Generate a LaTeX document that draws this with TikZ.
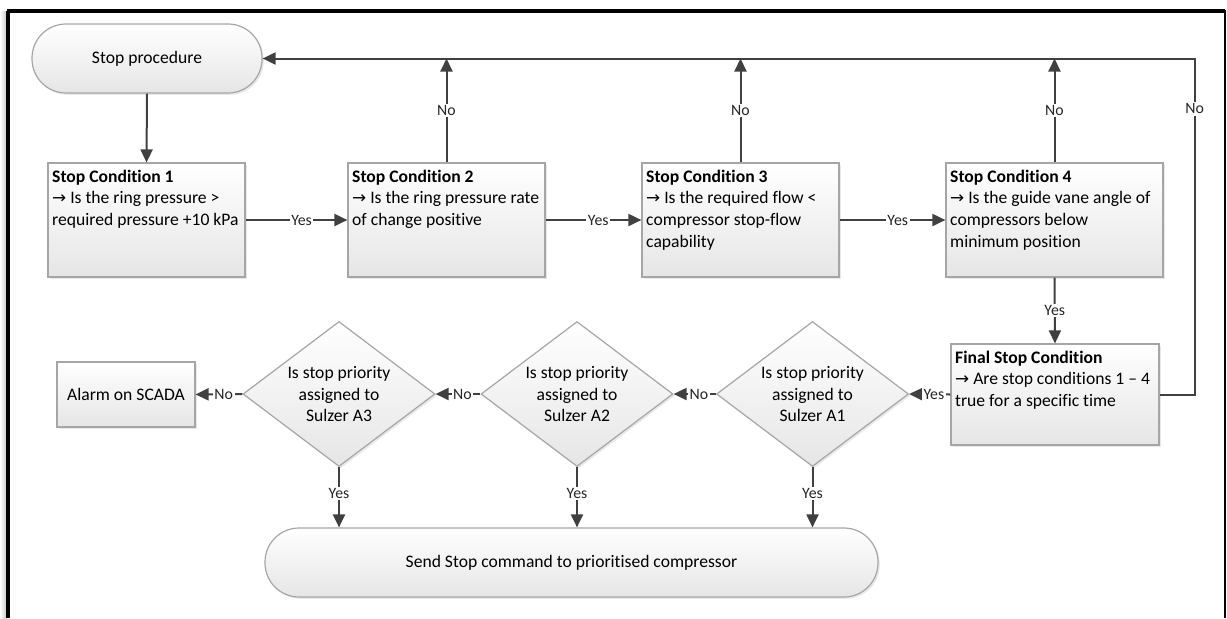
\documentclass[tikz,border=0pt]{standalone}
\usepackage{fontspec}
\setmainfont[Ligatures={NoCommon}]{Carlito}
\newfontfamily\arrowfont{DejaVu Sans}
\newcommand{\qarrow}{{\arrowfont\fontsize{8.4}{10.8}\selectfont →}}
\usetikzlibrary{arrows.meta,shapes.geometric,shadows,calc}

\tikzset{
  conn/.style={draw=black!75, line width=1pt, -{Triangle[length=6.5pt,width=6pt]}},
  shapefill/.style={draw=black!35, line width=0.6pt, top color=white, bottom color=black!10,
    drop shadow={opacity=0.18, shadow xshift=0.9pt, shadow yshift=-0.9pt}},
  cbox/.style={shapefill, rectangle, inner sep=0pt, minimum height=57pt},
  terminal/.style={shapefill, rectangle, rounded corners=17pt, minimum height=34.5pt,
    inner sep=0pt, font=\fontsize{8.8}{10.8}\selectfont},
  decision/.style={shapefill, diamond, inner sep=0pt, minimum width=96pt, minimum height=72.5pt},
  boxtext/.style={anchor=north west, inner xsep=2.2pt, inner ysep=3.6pt, align=left,
    font=\fontsize{8.8}{10.8}\selectfont},
  dtext/.style={align=center, inner sep=0pt, font=\fontsize{8.8}{10.8}\selectfont},
  elabel/.style={fill=white, inner sep=0.8pt, font=\fontsize{7.9}{9}\selectfont, text=black!85},
}

\begin{document}
\begin{tikzpicture}[x=0.5pt, y=-0.5pt]
  \useasboundingbox (0,0) rectangle (1227,618);

  % page frame, open at the bottom
  \shade[left color=white, right color=black!22] (0,11) rectangle (6.5,618);
  \draw[line width=2pt] (8,618) -- (8,11);
  \draw[line width=2pt] (7,11) -- (1225,11);
  \draw[line width=1.3pt] (1225,10) -- (1225,618);

  % start terminal
  \node[terminal, minimum width=115pt] (sp) at (147,58.5) {Stop procedure};

  % stop condition boxes
  \node[cbox, minimum width=98.5pt]  (c1) at (146.5,220) {};
  \node[cbox, minimum width=98.5pt]  (c2) at (446.5,220) {};
  \node[cbox, minimum width=98.5pt]  (c3) at (740.5,220) {};
  \node[cbox, minimum width=108.5pt] (c4) at (1054.5,220) {};
  \node[boxtext] (c1t) at (c1.north west) {\textbf{Stop Condition 1}\\\qarrow{} Is the ring pressure >\\required pressure +10 kPa};
  \node[boxtext] (c2t) at (c2.north west) {\textbf{Stop Condition 2}\\\qarrow{} Is the ring pressure rate\\of change positive};
  \node[boxtext] (c3t) at (c3.north west) {\textbf{Stop Condition 3}\\\qarrow{} Is the required flow <\\compressor stop-flow\\capability};
  \node[boxtext] (c4t) at (c4.north west) {\textbf{Stop Condition 4}\\\qarrow{} Is the guide vane angle of\\compressors below\\minimum position};

  % final condition
  \node[cbox, minimum width=104pt, minimum height=50.5pt] (fin) at (1055,394.5) {};
  \node[boxtext] (fint) at (fin.north west) {\textbf{Final Stop Condition}\\\qarrow{} Are stop conditions 1 -- 4\\true for a specific time};

  % priority decisions
  \node[decision] (d1) at (812.5,394) {};
  \node[decision] (d2) at (577,394) {};
  \node[decision] (d3) at (339,394) {};
  \node[dtext] (d1t) at (d1.center) {Is stop priority\\assigned to\\Sulzer A1};
  \node[dtext] (d2t) at (d2.center) {Is stop priority\\assigned to\\Sulzer A2};
  \node[dtext] (d3t) at (d3.center) {Is stop priority\\assigned to\\Sulzer A3};

  % alarm and end terminal
  \node[cbox, minimum width=69pt, minimum height=32.5pt, font=\fontsize{8.8}{10.8}\selectfont] (al) at (126,394.5) {Alarm on SCADA};
  \node[terminal, minimum width=306.5pt] (send) at (571.5,562.5) {Send Stop command to prioritised compressor};

  % main flow
  \draw[conn] (sp.south) -- (c1.north);
  \draw[conn] (c1.east) -- node[elabel, pos=.55] {Yes} (c2.west);
  \draw[conn] (c2.east) -- node[elabel, pos=.55] {Yes} (c3.west);
  \draw[conn] (c3.east) -- node[elabel, pos=.55] {Yes} (c4.west);
  \draw[conn] (c4.south) -- node[elabel] {Yes} (fin.north);

  % return paths to the start
  \draw[conn] (c2.north) -- node[elabel] {No} (c2.north |- sp.east);
  \draw[conn] (c3.north) -- node[elabel] {No} (c3.north |- sp.east);
  \draw[conn] (c4.north) -- node[elabel] {No} (c4.north |- sp.east);
  \coordinate (rc) at ($(fin.east)+(35,0)$);
  \draw[conn] (fin.east) -- (rc) -- node[elabel, pos=.85] {No} (rc |- sp.east) -- (sp.east);

  % priority chain
  \draw[conn] (fin.west) -- node[elabel, pos=.4] {Yes} (d1.east);
  \draw[conn] (d1.west) -- node[elabel, pos=.4] {No} (d2.east);
  \draw[conn] (d2.west) -- node[elabel, pos=.4] {No} (d3.east);
  \draw[conn] (d3.west) -- node[elabel, pos=.4] {No} (al.east);

  \draw[conn] (d1.south) -- node[elabel, pos=.44] {Yes} (d1.south |- send.north);
  \draw[conn] (d2.south) -- node[elabel, pos=.44] {Yes} (d2.south |- send.north);
  \draw[conn] (d3.south) -- node[elabel, pos=.44] {Yes} (d3.south |- send.north);
\end{tikzpicture}
\end{document}
